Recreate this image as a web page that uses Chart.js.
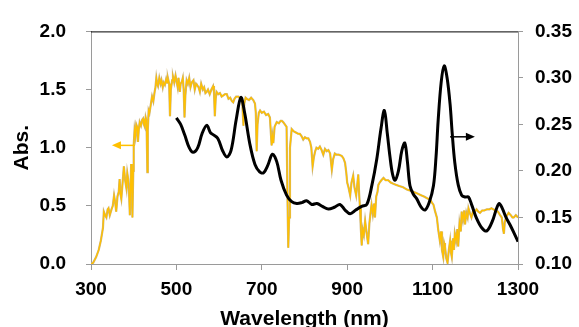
<!DOCTYPE html>
<html>
<head>
<meta charset="utf-8">
<script src="https://cdn.jsdelivr.net/npm/chart.js@4.4.1/dist/chart.umd.min.js"></script>
<style>
  html, body { margin: 0; padding: 0; background: #fff; }
  #wrap { width: 579px; height: 327px; }
</style>
</head>
<body>
<div id="wrap"><canvas id="absChart" width="579" height="327"></canvas></div>
<script>
// solar spectrum (left axis, Abs.)
var solarNm = [300,305,312,318,323,328,330,333,336,339,341,344,348,351,354,357,359,362,365,367,369,371,374,377,380,383,385,387,389,391,393,394,396,397,399,400,402,404,406,408,410,412,414,417,420,422,424,426,428,430,432,433,435,437,440,443,446,449,451,453,455,457,460,463,465,468,470,473,476,478,480,483,485,487,490,492,495,498,500,503,505,508,510,513,515,517,519,521,524,527,530,533,536,540,543,546,548,552,555,558,562,565,568,571,574,578,582,586,588,590,592,594,598,602,606,610,614,618,622,626,630,633,636,640,645,650,654,657,659,662,665,670,675,680,684,686,688,690,693,696,700,705,710,715,719,723,725,727,730,735,740,744,747,750,754,758,760,762,764,766,770,775,780,785,789,793,797,801,805,809,813,816,819,822,825,828,832,836,840,844,848,852,856,860,864,867,871,875,880,887,891,895,898,900,903,907,910,914,917,921,924,926,928,930,932,934,936,939,942,945,949,952,955,957,960,963,965,968,971,973,976,980,985,990,996,1002,1008,1015,1022,1031,1040,1048,1055,1062,1068,1074,1080,1085,1090,1094,1098,1102,1106,1110,1113,1117,1120,1122,1125,1127,1129,1132,1135,1138,1141,1143,1145,1148,1150,1152,1155,1158,1160,1163,1166,1168,1171,1174,1176,1179,1182,1184,1188,1191,1195,1199,1203,1207,1211,1216,1221,1227,1233,1238,1242,1248,1253,1258,1262,1265,1267,1269,1273,1278,1283,1287,1290,1295,1300];
var solarAbs = [0,0.01,0.06,0.12,0.20,0.31,0.45,0.42,0.40,0.47,0.48,0.42,0.47,0.50,0.59,0.52,0.45,0.58,0.62,0.73,0.60,0.56,0.70,0.84,0.72,0.65,0.78,0.73,0.62,0.42,0.70,0.86,0.60,0.40,0.80,1.02,1.15,1.10,1.20,1.18,1.05,1.16,1.22,1.19,1.24,1.25,1.20,1.18,1.26,1.23,0.79,1.15,1.32,1.30,1.37,1.44,1.40,1.48,1.52,1.60,1.55,1.53,1.60,1.55,1.58,1.52,1.56,1.54,1.59,1.56,1.60,1.55,1.27,1.50,1.58,1.61,1.56,1.62,1.58,1.52,1.60,1.48,1.55,1.57,1.60,1.50,1.26,1.45,1.58,1.55,1.60,1.52,1.56,1.58,1.50,1.55,1.54,1.52,1.48,1.55,1.50,1.52,1.47,1.48,1.50,1.46,1.50,1.53,1.48,1.27,1.42,1.48,1.46,1.47,1.44,1.45,1.46,1.46,1.42,1.43,1.40,1.39,1.42,1.44,1.44,1.42,1.40,1.19,1.38,1.43,1.42,1.41,1.43,1.41,1.38,1.30,0.97,1.20,1.30,1.32,1.30,1.31,1.28,1.29,1.26,1.02,1.10,1.04,1.18,1.22,1.21,1.23,1.23,1.22,1.20,1.18,0.60,0.14,0.40,1.00,1.16,1.14,1.13,1.12,1.12,1.10,1.07,1.09,1.08,1.08,1.05,1.00,0.84,0.92,0.97,1.00,0.99,1.01,0.98,0.94,0.99,0.97,0.98,0.95,0.81,0.90,0.95,0.94,0.94,0.93,0.91,0.87,0.78,0.70,0.66,0.59,0.70,0.76,0.66,0.59,0.70,0.77,0.60,0.48,0.30,0.16,0.30,0.25,0.37,0.28,0.17,0.35,0.45,0.51,0.43,0.52,0.40,0.58,0.62,0.68,0.70,0.72,0.74,0.72,0.72,0.70,0.69,0.68,0.67,0.66,0.64,0.63,0.62,0.61,0.60,0.59,0.58,0.57,0.56,0.56,0.53,0.51,0.45,0.40,0.30,0.20,0.28,0.12,0.06,0.18,0.15,0.05,0.01,0.12,0.20,0.10,0.06,0.22,0.12,0.26,0.20,0.30,0.15,0.35,0.28,0.45,0.38,0.46,0.34,0.44,0.40,0.48,0.43,0.40,0.46,0.45,0.47,0.45,0.44,0.46,0.46,0.47,0.47,0.48,0.47,0.46,0.45,0.42,0.40,0.30,0.26,0.36,0.41,0.44,0.42,0.40,0.40,0.42,0.40];

// sample absorbance (right axis)
var sampleNm = [500,510,520,530,539,550,560,571,580,586,597,608,618,628,640,651,660,672,684,695,704,714,725,735,745,758,770,782,794,805,817,829,842,856,870,883,895,907,920,934,946,958,969,979,987,994,1000,1006,1012,1020,1028,1035,1041,1047,1055,1063,1072,1082,1092,1102,1108,1113,1120,1127,1134,1141,1146,1152,1160,1168,1176,1184,1192,1203,1215,1227,1240,1250,1256,1263,1272,1281,1290,1300];
var sampleAbs = [0.257,0.250,0.238,0.225,0.220,0.225,0.240,0.249,0.241,0.239,0.235,0.222,0.215,0.222,0.255,0.279,0.262,0.229,0.207,0.199,0.198,0.206,0.218,0.210,0.190,0.174,0.167,0.165,0.166,0.168,0.164,0.165,0.162,0.159,0.161,0.164,0.158,0.154,0.158,0.162,0.164,0.185,0.212,0.245,0.265,0.240,0.216,0.197,0.190,0.200,0.222,0.230,0.210,0.184,0.175,0.170,0.162,0.158,0.166,0.184,0.215,0.254,0.295,0.313,0.300,0.2715,0.240,0.209,0.185,0.174,0.172,0.172,0.163,0.149,0.139,0.1356,0.146,0.160,0.165,0.160,0.150,0.1425,0.134,0.124];

var xTicks = [300, 500, 700, 900, 1100, 1300];
var leftTicks = [0, 0.5, 1.0, 1.5, 2.0];
var rightTicks = [0.10, 0.15, 0.20, 0.25, 0.30, 0.35];

// arrows: [fromNm, toNm, value, axis, colour]
var arrows = [
  [403, 349, 1.02, 'yL', '#FFC000'],
  [1141, 1199, 0.2367, 'yR', '#000000']
];

function pairs(xs, ys) {
  var out = [];
  for (var i = 0; i < xs.length; i++) out.push({x: xs[i], y: ys[i]});
  return out;
}

var FONT = 'Liberation Sans, Arial, sans-serif';

var arrowPlugin = {
  id: 'arrowsAndTop',
  afterDatasetsDraw: function(chart) {
    var ctx = chart.ctx, a = chart.chartArea;
    ctx.save();
    // black top border
    ctx.strokeStyle = '#000';
    ctx.lineWidth = 1;
    ctx.beginPath();
    ctx.moveTo(a.left, a.top + 0.5);
    ctx.lineTo(a.right, a.top + 0.5);
    ctx.stroke();

    arrows.forEach(function(ar) {
      var xs = chart.scales.x, ys = chart.scales[ar[3]];
      var x0 = xs.getPixelForValue(ar[0]);
      var x1 = xs.getPixelForValue(ar[1]);
      var y = ys.getPixelForValue(ar[2]);
      var dir = x1 > x0 ? 1 : -1;
      ctx.strokeStyle = ar[4];
      ctx.fillStyle = ar[4];
      ctx.lineWidth = 1.5;
      ctx.beginPath();
      ctx.moveTo(x0, y);
      ctx.lineTo(x1 - dir * 6, y);
      ctx.stroke();
      ctx.beginPath();
      ctx.moveTo(x1, y);
      ctx.lineTo(x1 - dir * 9, y - 4);
      ctx.lineTo(x1 - dir * 9, y + 4);
      ctx.closePath();
      ctx.fill();
    });
    ctx.restore();
  }
};

var ctx = document.getElementById('absChart');
var absChart = new Chart(ctx, {
  type: 'line',
  data: {
    datasets: [
      {
        label: 'sample',
        data: pairs(sampleNm, sampleAbs),
        yAxisID: 'yR',
        borderColor: '#000',
        borderWidth: 3,
        pointRadius: 0,
        tension: 0.35,
        fill: false
      },
      {
        label: 'solar',
        data: pairs(solarNm, solarAbs),
        yAxisID: 'yL',
        borderColor: '#FFC000',
        borderWidth: 1.3,
        pointRadius: 0,
        tension: 0,
        fill: false
      },
      {
        label: 'solar edge',
        data: pairs(solarNm, solarAbs),
        yAxisID: 'yL',
        borderColor: '#C9B483',
        borderWidth: 2.2,
        pointRadius: 0,
        tension: 0,
        fill: false
      }
    ]
  },
  options: {
    responsive: false,
    animation: false,
    layout: { padding: { top: 25, left: 0, right: 0, bottom: 0 } },
    plugins: {
      legend: { display: false },
      tooltip: { enabled: false }
    },
    scales: {
      x: {
        type: 'linear',
        position: 'bottom',
        min: 300,
        max: 1300,
        afterBuildTicks: function(s) { s.ticks = xTicks.map(function(v){ return {value: v}; }); },
        afterFit: function(s) { s.height = 63; },
        grid: { drawOnChartArea: false, tickLength: 6, color: '#9a9a9a' },
        border: { color: '#9a9a9a' },
        ticks: {
          color: '#000',
          padding: 8,
          maxRotation: 0,
          font: { family: FONT, size: 19, weight: 'bold' },
          callback: function(v) { return String(v); }
        },
        title: {
          display: true,
          text: 'Wavelength (nm)',
          color: '#000',
          padding: { top: 0, bottom: -3 },
          font: { family: FONT, size: 21, weight: 'bold', lineHeight: 1 }
        }
      },
      yL: {
        type: 'linear',
        position: 'left',
        min: 0,
        max: 2,
        afterBuildTicks: function(s) { s.ticks = leftTicks.map(function(v){ return {value: v}; }); },
        afterFit: function(s) { s.width = 91; },
        grid: { drawOnChartArea: false, tickLength: 5, color: '#9a9a9a' },
        border: { color: '#9a9a9a' },
        ticks: {
          color: '#000',
          padding: 20,
          font: { family: FONT, size: 19, weight: 'bold' },
          callback: function(v) { return Number(v).toFixed(1); }
        },
        title: {
          display: true,
          text: 'Abs.',
          color: '#000',
          padding: { top: 10, bottom: 0 },
          font: { family: FONT, size: 21, weight: 'bold' }
        }
      },
      yR: {
        type: 'linear',
        position: 'right',
        min: 0.10,
        max: 0.35,
        afterBuildTicks: function(s) { s.ticks = rightTicks.map(function(v){ return {value: v}; }); },
        afterFit: function(s) { s.width = 61; },
        grid: { drawOnChartArea: false, tickLength: 5, color: '#9a9a9a' },
        border: { color: '#9a9a9a' },
        ticks: {
          color: '#000',
          padding: 12,
          font: { family: FONT, size: 19, weight: 'bold' },
          callback: function(v) { return Number(v).toFixed(2); }
        }
      }
    }
  },
  plugins: [arrowPlugin]
});
</script>
</body>
</html>
